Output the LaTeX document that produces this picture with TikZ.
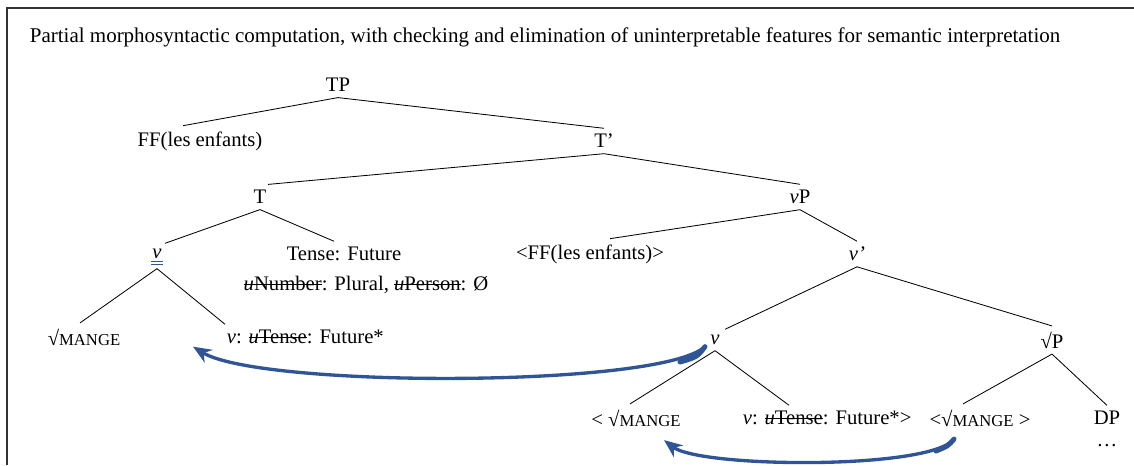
\documentclass[tikz,border=0pt]{standalone}
\usepackage{fontspec}
\setmainfont{Liberation Serif}
\usetikzlibrary{arrows.meta,calc}

\definecolor{moveblue}{RGB}{47,85,151}
\newcommand{\mange}{{\fontsize{10}{12}\selectfont MANGE}}
\newsavebox{\strikebox}
\newcommand{\ufeat}[1]{\sbox{\strikebox}{\textit{u}#1}\rlap{\usebox{\strikebox}}\rule[0.3em]{\wd\strikebox}{0.5pt}}

\begin{document}
\begin{tikzpicture}[x=0.6pt,y=-0.6pt,
    every node/.style={font=\fontsize{12.4}{15}\selectfont, inner sep=1pt, outer sep=2.5pt},
    branch/.style={line width=0.5pt},
    movearrow/.style={moveblue, line width=2pt, -{Stealth[length=11pt,width=9pt]}}]
  \useasboundingbox (0,0) rectangle (1134,465);
  \draw[line width=1pt, black!80] (7,465) -- (7,8) -- (1134,8);

  \node (title) [anchor=base west, font=\fontsize{12.6}{15}\selectfont] at (24,42) {Partial morphosyntactic computation, with checking and elimination of uninterpretable features for semantic interpretation};

  % tree
  \node (TP) at (338,85) {TP};
  \node (FF) at (200,141) {FF(les enfants)};
  \node (Tbar) at (604,141) {T’};
  \node (T) at (260,197) {T};
  \node (vP) at (800,197) {\textit{v}P};
  \node (vlow) at (157,254) {\textit{v}};
  \node (tense) at (344,254) {Tense: Future};
  \node (phi) at (366,285) {\ufeat{Number}: Plural, \ufeat{Person}: Ø};
  \node (FFcopy) at (590,254) {<FF(les enfants)>};
  \node (vbar) at (857,254) {\textit{v’}};
  \node (rootA) at (84,337) {√\mange};
  \node (vfeatA) [anchor=west] at (221,337) {\textit{v}: \ufeat{Tense}: Future*};
  \node (vmid) at (715,340) {\textit{v}};
  \node (rootP) at (1052,340) {√P};
  \node (rootB) at (636,418) {< √\mange};
  \node (vfeatB) [anchor=west] at (737,418) {\textit{v}: \ufeat{Tense}: Future*>};
  \node (rootC) at (980,418) {<√\mange\ >};
  \node (DP) at (1107,418) {DP};
  \node (dots) at (1107,446) {…};

  % double underline under v
  \draw[moveblue, line width=0.5pt] ($(vlow.base)+(-6,3)$) -- ($(vlow.base)+(6,3)$);
  \draw[moveblue, line width=0.5pt] ($(vlow.base)+(-6,6)$) -- ($(vlow.base)+(6,6)$);

  % branches
  \draw[branch] (TP.south) -- ($(FF.north)+(-17,0)$);
  \draw[branch] (TP.south) -- (Tbar.north);
  \draw[branch] (Tbar.south) -- ($(T.north)+(8,0)$);
  \draw[branch] (Tbar.south) -- (vP.north);
  \draw[branch] (T.south) -- ($(vlow.north)+(8,0)$);
  \draw[branch] (T.south) -- ($(tense.north)+(-10,0)$);
  \draw[branch] (vP.south) -- ($(FFcopy.north)+(20,0)$);
  \draw[branch] (vP.south) -- (vbar.north);
  \draw[branch] ($(vlow.base)+(0,10)$) -- ($(rootA.north)+(-4,0)$);
  \draw[branch] ($(vlow.base)+(0,10)$) -- ($(vfeatA.north west)+(4,0)$);
  \draw[branch] (vbar.south) -- ($(vmid.north)+(10,0)$);
  \draw[branch] (vbar.south) -- (rootP.north);
  \draw[branch] (vmid.south) -- ($(rootB.north)+(-6,0)$);
  \draw[branch] (vmid.south) -- ($(vfeatB.north west)+(52,0)$);
  \draw[branch] (rootP.south) -- ($(rootC.north)+(-17,0)$);
  \draw[branch] (rootP.south) -- (DP.north);

  % head movement
  \draw[movearrow] ($(vmid.base)+(-10,2)$) .. controls (660,388) and (260,388) .. ($(vfeatA.base west)+(-28,3)$);
  \draw[moveblue, line width=3pt, line cap=round] ($(vmid.base)+(-10,2)$) .. controls (697,357) .. (680,362);
  \draw[movearrow] ($(rootC.base)+(-26,13)$) .. controls (930,470) and (700,468) .. ($(rootB.base)+(28,14)$);
  \draw[moveblue, line width=3pt, line cap=round] ($(rootC.base)+(-26,13)$) .. controls (948,446) .. (936,451);
\end{tikzpicture}
\end{document}
